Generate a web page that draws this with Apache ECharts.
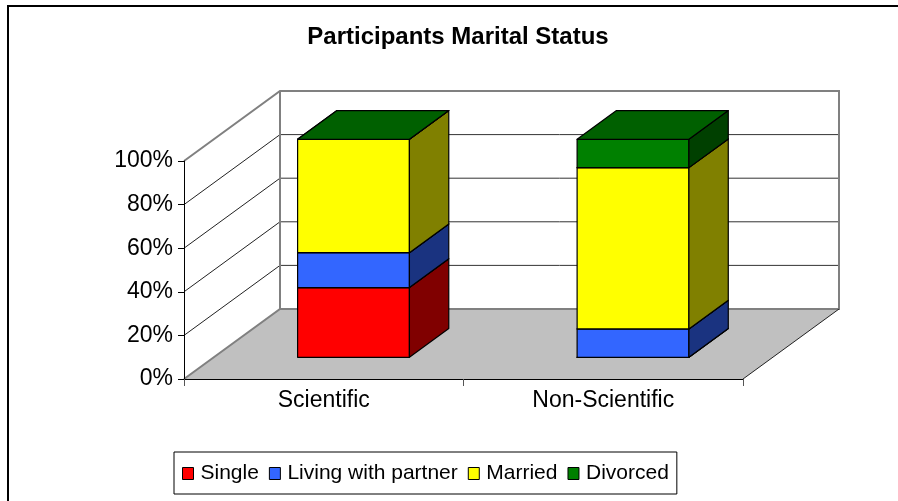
<!DOCTYPE html>
<html>
<head>
<meta charset="utf-8">
<script src="https://cdn.jsdelivr.net/npm/echarts@6/dist/echarts.min.js"></script>
<style>
  html, body { margin: 0; padding: 0; background: #fff; }
  #main { width: 898px; height: 501px; }
</style>
</head>
<body>
<div id="main"></div>
<script>
// data (percent of each group)
var categories = ['Scientific', 'Non-Scientific'];
var seriesNames = ['Single', 'Living with partner', 'Married', 'Divorced'];
var single = [32, 0];
var livingWithPartner = [16, 13];
var married = [52, 74];
var divorced = [0, 13];
var yTicks = [0, 20, 40, 60, 80, 100];

// faces of the 3d boxes: front / side / top
var faceColors = [
  { front: '#FF0000', side: '#800000', top: '#C00000' },
  { front: '#3366FF', side: '#1A3380', top: '#264CBF' },
  { front: '#FFFF00', side: '#808000', top: '#BFBF00' },
  { front: '#008000', side: '#004000', top: '#006000' }
];

// oblique depth of the floor, in pixels
var DX = 96, DY = -70;
var FONT = "'Liberation Sans', Arial, sans-serif";

var chart = echarts.init(document.getElementById('main'));

// stacked bases
var values = [single, livingWithPartner, married, divorced];
var bases = values.map(function () { return categories.map(function () { return 0; }); });
for (var s = 1; s < values.length; s++) {
  for (var c = 0; c < categories.length; c++) {
    bases[s][c] = bases[s - 1][c] + values[s - 1][c];
  }
}

function renderFrame(params, api) {
  var bw = api.size([1, 0])[0];
  var p0 = api.coord([0, yTicks[0]]);
  var pTop = api.coord([0, yTicks[yTicks.length - 1]]);
  var xl = p0[0] - bw / 2, xr = xl + bw * categories.length;
  var yb = p0[1], yt = pTop[1];
  var gray = '#808080';
  var kids = [];
  // floor
  kids.push({ type: 'polygon', shape: { points: [[xl, yb], [xr, yb], [xr + DX, yb + DY], [xl + DX, yb + DY]] },
    style: { fill: '#C0C0C0', stroke: null } });
  // walls
  kids.push({ type: 'polygon', shape: { points: [[xl, yb], [xl + DX, yb + DY], [xl + DX, yt + DY], [xl, yt]] },
    style: { fill: '#fff', stroke: null } });
  kids.push({ type: 'rect', shape: { x: xl + DX, y: yt + DY, width: xr - xl, height: yb - yt } ,
    style: { fill: '#fff', stroke: null } });
  // gridlines
  for (var i = 1; i < yTicks.length - 1; i++) {
    var y = api.coord([0, yTicks[i]])[1];
    kids.push({ type: 'line', shape: { x1: xl, y1: y, x2: xl + DX, y2: y + DY }, style: { stroke: '#222', lineWidth: 1 } });
    kids.push({ type: 'line', shape: { x1: xl + DX, y1: y + DY, x2: xr + DX, y2: y + DY }, style: { stroke: '#333', lineWidth: 1 } });
  }
  // wall edges
  kids.push({ type: 'polyline', shape: { points: [[xl, yt], [xl + DX, yt + DY], [xr + DX, yt + DY], [xr + DX, yb + DY], [xl + DX, yb + DY], [xl, yb]] },
    style: { fill: null, stroke: gray, lineWidth: 2 } });
  kids.push({ type: 'line', shape: { x1: xl + DX, y1: yt + DY, x2: xl + DX, y2: yb + DY }, style: { stroke: gray, lineWidth: 2 } });
  kids.push({ type: 'line', shape: { x1: xr, y1: yb, x2: xr + DX, y2: yb + DY }, style: { stroke: '#222', lineWidth: 1 } });
  return { type: 'group', children: kids };
}

function makeBoxRenderer(colors) {
  return function (params, api) {
    var c = api.value(0), base = api.value(1), v = api.value(2);
    var bw = api.size([1, 0])[0];
    var w = bw * 0.4;
    var pb = api.coord([c, base]);
    var pt = api.coord([c, base + v]);
    var fx = DX * 0.31, fy = DY * 0.31, ddx = DX * 0.41, ddy = DY * 0.41;
    var x0 = pb[0] - w / 2 + fx, x1 = x0 + w;
    var yB = pb[1] + fy, yT = pt[1] + fy;
    var edge = { stroke: '#000', lineWidth: 1.2, lineJoin: 'round' };
    return {
      type: 'group',
      children: [
        { type: 'polygon', shape: { points: [[x0, yB], [x1, yB], [x1, yT], [x0, yT]] },
          style: Object.assign({ fill: colors.front }, edge) },
        { type: 'polygon', shape: { points: [[x1, yB], [x1 + ddx, yB + ddy], [x1 + ddx, yT + ddy], [x1, yT]] },
          style: Object.assign({ fill: colors.side }, edge) },
        { type: 'polygon', shape: { points: [[x0, yT], [x1, yT], [x1 + ddx, yT + ddy], [x0 + ddx, yT + ddy]] },
          style: Object.assign({ fill: colors.top }, edge) }
      ]
    };
  };
}

var series = [{
  name: 'frame',
  type: 'custom',
  z: 1,
  silent: true,
  renderItem: renderFrame,
  data: [[0, 0]]
}];
seriesNames.forEach(function (name, s) {
  series.push({
    name: name,
    type: 'custom',
    z: 3,
    itemStyle: { color: faceColors[s].front },
    renderItem: makeBoxRenderer(faceColors[s]),
    encode: { x: 0, y: 2 },
    data: categories.map(function (cat, c) { return [c, bases[s][c], values[s][c]]; })
  });
});

var option = {
  animation: false,
  backgroundColor: '#fff',
  title: {
    text: 'Participants Marital Status',
    left: 458,
    textAlign: 'center',
    top: 25,
    padding: 0,
    textStyle: { fontFamily: FONT, fontSize: 24, fontWeight: 'bold', color: '#000' }
  },
  graphic: [{
    type: 'rect',
    shape: { x: 8, y: 6, width: 1000, height: 1000 },
    style: { fill: null, stroke: '#000', lineWidth: 2 },
    z: 10
  }],
  legend: {
    data: seriesNames,
    left: 174,
    top: 452,
    padding: [11, 8, 10, 8],
    itemGap: 10,
    itemWidth: 11,
    itemHeight: 12,
    icon: 'rect',
    itemStyle: { borderColor: '#000', borderWidth: 1 },
    borderColor: '#000',
    borderWidth: 1,
    textStyle: { fontFamily: FONT, fontSize: 21, color: '#000', padding: [0, 0, 0, 2] }
  },
  grid: { left: 184, right: 155, top: 161, bottom: 122, containLabel: false },
  xAxis: {
    type: 'category',
    data: categories,
    z: 5,
    axisLine: { lineStyle: { color: '#000', width: 1 } },
    axisTick: { show: true, length: 7, lineStyle: { color: '#555' } },
    axisLabel: { fontFamily: FONT, fontSize: 23, color: '#000', margin: 10 },
    splitLine: { show: false }
  },
  yAxis: {
    type: 'value',
    min: yTicks[0],
    max: yTicks[yTicks.length - 1],
    interval: yTicks[1] - yTicks[0],
    z: 5,
    axisLine: { show: true, lineStyle: { color: '#000', width: 1 } },
    axisTick: { show: true, length: 6, lineStyle: { color: '#000' } },
    axisLabel: { fontFamily: FONT, fontSize: 23, color: '#000', margin: 11, formatter: '{value}%' },
    splitLine: { show: false }
  },
  series: series
};

chart.setOption(option);
</script>
</body>
</html>
